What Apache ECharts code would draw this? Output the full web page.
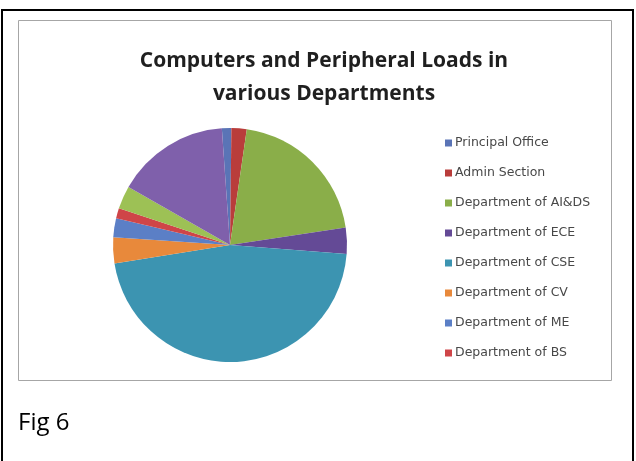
<!DOCTYPE html>
<html>
<head>
<meta charset="utf-8">
<script src="https://cdn.jsdelivr.net/npm/echarts@6/dist/echarts.min.js"></script>
<style>
  html, body { margin: 0; padding: 0; background: #ffffff; }
  #chart { width: 636px; height: 461px; }
</style>
</head>
<body>
<div id="chart"></div>
<script>
// Departments, in the order the slices are laid out clockwise
const categories = [
  'Principal Office',
  'Admin Section',
  'Department of AI&DS',
  'Department of ECE',
  'Department of CSE',
  'Department of CV',
  'Department of ME',
  'Department of BS',
  'Other Section 1',
  'Other Section 2'
];
// Share of computer and peripheral load (%)
const loads = [1.3, 2.1, 20.3, 3.6, 46.2, 3.6, 2.6, 1.4, 3.2, 15.6];
// Entries listed in the legend box
const legendNames = categories.slice(0, 8);
const sliceColors = [
  '#5a74b6', '#b93d3b', '#8aae49', '#644a96', '#3c94b1',
  '#e8893b', '#5b7fc6', '#cf4548', '#9dc155', '#7f60ab'
];

const chart = echarts.init(document.getElementById('chart'), null, { renderer: 'canvas' });

chart.setOption({
  backgroundColor: '#ffffff',
  animation: false,
  color: sliceColors,
  title: {
    text: 'Computers and Peripheral Loads in\nvarious Departments',
    left: 319,
    textAlign: 'center',
    top: 40,
    textStyle: {
      fontFamily: 'Open Sans',
      fontWeight: 'bold',
      fontSize: 21,
      lineHeight: 33,
      color: '#1f1f1f'
    }
  },
  legend: {
    orient: 'vertical',
    left: 440,
    top: 131,
    data: legendNames,
    icon: 'rect',
    itemWidth: 7,
    itemHeight: 7,
    itemGap: 16,
    selectedMode: false,
    textStyle: {
      fontFamily: 'DejaVu Sans',
      fontSize: 12.5,
      lineHeight: 14,
      color: '#484848',
      padding: [0, 0, 0, -2]
    }
  },
  graphic: [
    {
      type: 'rect',
      shape: { x: 2, y: 10, width: 631, height: 470 },
      style: { fill: 'none', stroke: '#000000', lineWidth: 2 },
      silent: true,
      z: 0
    },
    {
      type: 'rect',
      shape: { x: 18.5, y: 20.5, width: 593, height: 360 },
      style: { fill: 'none', stroke: '#a6a6a6', lineWidth: 1 },
      silent: true,
      z: 0
    },
    {
      type: 'text',
      left: 18,
      top: 411,
      style: {
        text: 'Fig 6',
        fontFamily: 'Open Sans',
        fontSize: 24,
        fill: '#000000'
      },
      silent: true
    }
  ],
  series: [{
    type: 'pie',
    center: [230, 245],
    radius: 117,
    startAngle: 94,
    clockwise: true,
    avoidLabelOverlap: false,
    label: { show: false },
    labelLine: { show: false },
    emphasis: { disabled: true },
    itemStyle: { borderWidth: 0 },
    data: categories.map((name, i) => ({ name: name, value: loads[i] }))
  }]
});
</script>
</body>
</html>
